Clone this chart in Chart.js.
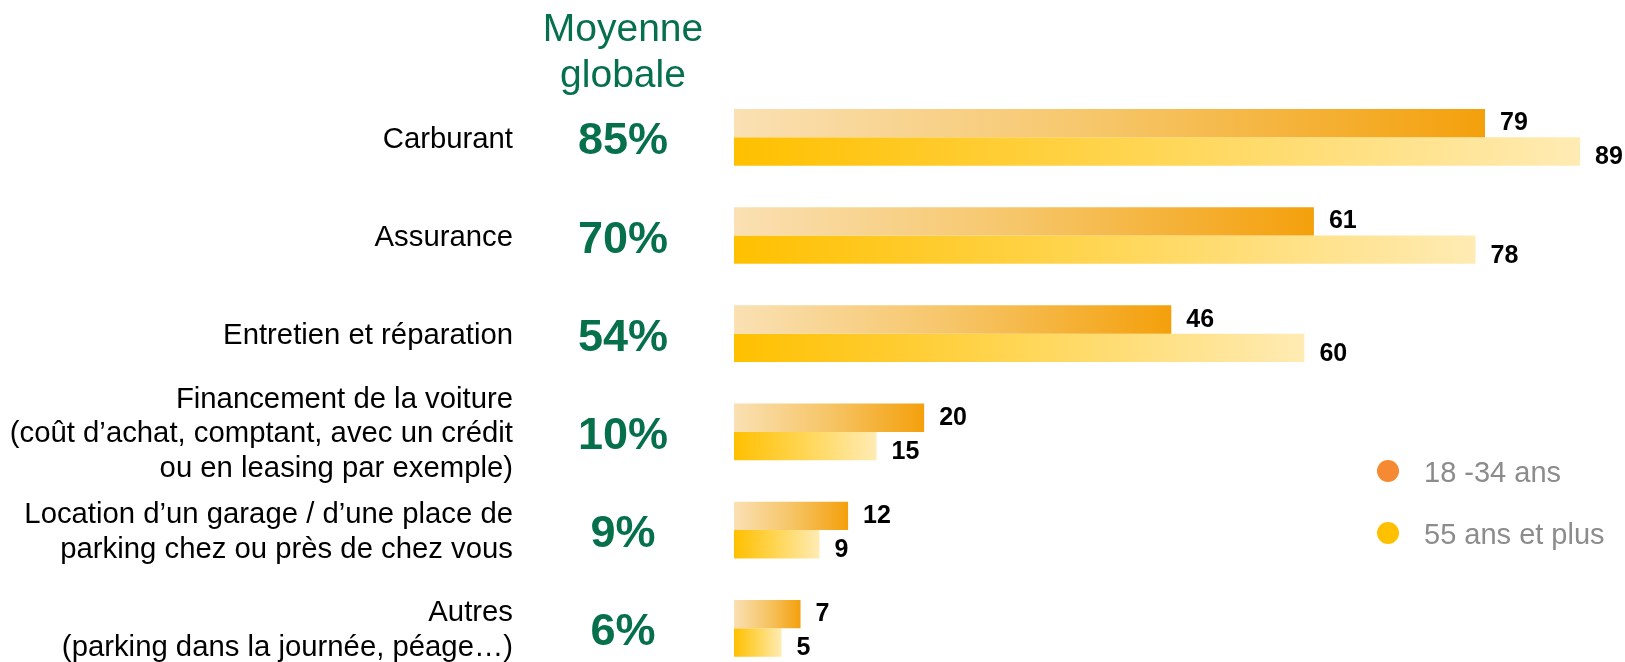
<!DOCTYPE html>
<html>
<head>
<meta charset="utf-8">
<script src="https://cdn.jsdelivr.net/npm/chart.js@4"></script>
<style>
  html, body { margin: 0; padding: 0; background: #ffffff; }
  #wrap { width: 1625px; height: 662px; position: relative; }
</style>
</head>
<body>
<div id="wrap"><canvas id="c" width="1625" height="662"></canvas></div>
<script>
// ---- data ----
const categories = [
  ['Carburant'],
  ['Assurance'],
  ['Entretien et réparation'],
  ['Financement de la voiture', '(coût d\u2019achat, comptant, avec un crédit', 'ou en leasing par exemple)'],
  ['Location d\u2019un garage / d\u2019une place de', 'parking chez ou près de chez vous'],
  ['Autres', '(parking dans la journée, péage\u2026)']
];
const moyenneGlobale = [85, 70, 54, 10, 9, 6];
const jeunes = [79, 61, 46, 20, 12, 7];
const seniors = [89, 78, 60, 15, 9, 5];
const seriesLabels = ['18 -34 ans', '55 ans et plus'];
const headerLines = ['Moyenne', 'globale'];

// ---- styles ----
const GREEN = '#06704a';
const FONT = '"Liberation Sans", Arial, sans-serif';
const legendColors = ['#f58a32', '#ffc000'];
const gradStops = [
  [[0, '#fae0b3'], [0.5, '#f6c567'], [1, '#f4a00c']],
  [[0, '#ffc000'], [0.5, '#ffd655'], [1, '#ffebb4']]
];

function gradientFor(ctx, stops) {
  const chart = ctx.chart;
  const xs = chart.scales && chart.scales.x;
  if (!chart.chartArea || !xs || ctx.raw == null) return stops[0][1];
  const x0 = xs.getPixelForValue(0);
  const x1 = xs.getPixelForValue(ctx.raw);
  const g = chart.ctx.createLinearGradient(x0, 0, Math.max(x1, x0 + 1), 0);
  stops.forEach(s => g.addColorStop(s[0], s[1]));
  return g;
}

const overlay = {
  id: 'overlay',
  afterDatasetsDraw(chart) {
    const c = chart.ctx;
    const ys = chart.scales.y;
    c.save();

    // header
    c.fillStyle = GREEN;
    c.textAlign = 'center';
    c.textBaseline = 'alphabetic';
    c.font = '39px ' + FONT;
    c.fillText(headerLines[0], 623, 41);
    c.fillText(headerLines[1], 623, 87);

    categories.forEach((lines, i) => {
      const cy = ys.getPixelForValue(i);
      // category labels
      c.fillStyle = '#000000';
      c.textAlign = 'right';
      c.font = '29.3px ' + FONT;
      const lh = 34.8;
      lines.forEach((t, k) => {
        const by = cy + 10.5 + (k - (lines.length - 1) / 2) * lh;
        c.fillText(t, 513, by);
      });
      // moyenne
      c.fillStyle = GREEN;
      c.textAlign = 'center';
      c.font = 'bold 45px ' + FONT;
      c.fillText(moyenneGlobale[i] + '%', 623, cy + 17);
    });

    // value labels
    c.fillStyle = '#000000';
    c.textAlign = 'left';
    c.font = 'bold 25px ' + FONT;
    chart.data.datasets.forEach((ds, di) => {
      const meta = chart.getDatasetMeta(di);
      meta.data.forEach((bar, j) => {
        const dy = di === 0 ? -2 : 4;
        c.fillText(String(ds.data[j]), bar.x + 15, bar.y + dy + 9);
      });
    });

    // legend
    const legY = [471, 533];
    seriesLabels.forEach((t, k) => {
      c.beginPath();
      c.fillStyle = legendColors[k];
      c.arc(1388, legY[k], 11, 0, Math.PI * 2);
      c.fill();
      c.fillStyle = '#8c8c8c';
      c.textAlign = 'left';
      c.font = '29px ' + FONT;
      c.fillText(t, 1424, legY[k] + 10.5);
    });
    c.restore();
  }
};

new Chart(document.getElementById('c'), {
  type: 'bar',
  data: {
    labels: categories,
    datasets: [
      { label: seriesLabels[0], data: jeunes, clip: false,
        backgroundColor: ctx => gradientFor(ctx, gradStops[0]) },
      { label: seriesLabels[1], data: seniors, clip: false,
        backgroundColor: ctx => gradientFor(ctx, gradStops[1]) }
    ]
  },
  options: {
    indexAxis: 'y',
    responsive: false,
    animation: false,
    events: [],
    layout: { padding: { left: 734, right: 35.4, top: 137.3, bottom: 33.7 } },
    datasets: { bar: { categoryPercentage: 0.577, barPercentage: 1, borderWidth: 0 } },
    scales: {
      x: { min: 0, max: 90, display: false, grid: { display: false } },
      y: { display: false, offset: false, grid: { display: false } }
    },
    plugins: { legend: { display: false }, tooltip: { enabled: false } }
  },
  plugins: [overlay]
});
</script>
</body>
</html>
